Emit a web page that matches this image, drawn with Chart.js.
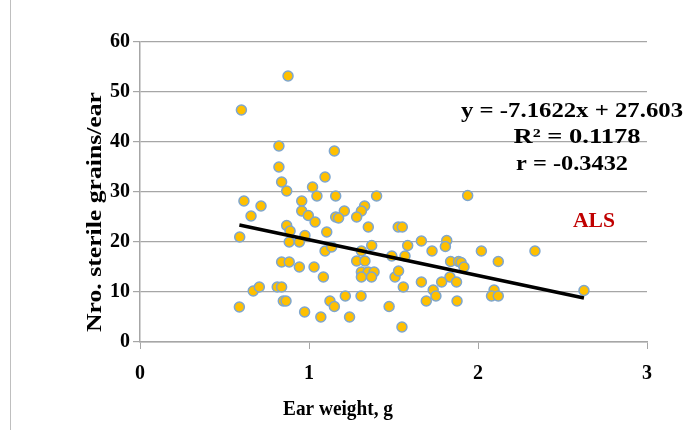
<!DOCTYPE html>
<html><head><meta charset="utf-8">
<script src="https://cdn.jsdelivr.net/npm/chart.js@4/dist/chart.umd.min.js"></script>
<style>html,body{margin:0;padding:0;background:#fff;}#wrap{width:683px;height:430px;}</style>
</head><body><div id="wrap"><canvas id="c" width="683" height="430"></canvas></div>
<script>
// Ear weight (g) per observation
const earWeight = [
  0.60, 0.876, 0.59, 0.588, 0.615, 0.657, 0.716, 0.67, 0.706, 0.822,
  0.822, 0.838, 0.868, 0.957, 1.021, 1.047, 0.957, 0.996, 1.036, 0.868,
  0.888, 0.976, 0.883, 0.943, 0.838, 0.883, 0.943, 1.03, 1.085, 0.812,
  0.838, 0.848, 0.864, 0.974, 1.07, 1.150, 1.095, 1.158, 1.40, 1.329,
  1.31, 1.282, 1.209, 1.158, 1.351, 1.528, 1.552, 1.105, 1.095, 1.134,
  1.371, 1.31, 1.282, 1.331, 1.31, 1.35, 1.385, 1.31, 1.37, 1.49,
  1.568, 1.584, 1.509, 1.53, 1.558, 1.215, 1.308, 1.124, 1.15, 1.24,
  1.474, 1.55, 1.665, 1.815, 1.807, 1.728, 2.02, 2.337, 1.838, 1.885,
  1.90, 1.917, 2.12, 1.834, 1.873, 1.785, 1.665, 1.735, 1.751, 1.694,
  1.876, 2.095, 2.08, 2.12, 2.627, 1.939, 1.175
];
// Number of sterile grains per ear
const sterileGrains = [
  46.4, 53.2, 21, 7, 28.2, 25.2, 27.2, 10.2, 11, 39.2,
  35, 32, 30.2, 28.2, 31, 29.2, 26.2, 25.3, 24, 23.3,
  22.2, 21.3, 20, 20, 16, 16, 15, 15, 13, 11,
  11, 8.2, 8.2, 6, 5, 38.2, 33, 29.2, 29.2, 27.2,
  26.2, 25, 26.2, 25, 23, 23, 23, 22, 18.2, 19,
  19.3, 18.2, 16.2, 16.2, 14, 14, 14, 13, 13, 17.2,
  17.2, 19.3, 13, 14.2, 11, 9.2, 9.2, 8.2, 7.1, 5,
  7.1, 3, 20.2, 20.3, 19.1, 18.2, 18.2, 18.2, 16.1, 16.1,
  15.9, 15, 16.1, 13, 12, 12, 12, 10.4, 9.2, 8.2,
  8.2, 10.4, 9.2, 9.2, 10.3, 29.3, 24.8
];
const trendSlope = -7.1622;
const trendIntercept = 27.603;
const xTickValues = [0, 1, 2, 3];
const yTickValues = [0, 10, 20, 30, 40, 50, 60];
const equationLines = ["y = -7.1622x + 27.603", "R\u00B2 = 0.1178", "r = -0.3432"];
const seriesName = "ALS";
const xTitle = "Ear weight, g";
const yTitle = "Nro. sterile grains/ear";

const points = earWeight.map((x, i) => ({x: x, y: sterileGrains[i]}));
const xMin = Math.min(...earWeight), xMax = Math.max(...earWeight);
const trend = [xMin, xMax].map(x => ({x: x, y: trendSlope * x + trendIntercept}));

const serif = "'Liberation Serif', 'Times New Roman', serif";
const gridCol = '#a6a6a6';

function stretchedText(ctx, text, cx, cy, targetW) {
  const w = ctx.measureText(text).width;
  const k = targetW / w;
  ctx.save();
  ctx.translate(cx, cy);
  ctx.scale(k, 1);
  ctx.fillText(text, 0, 0);
  ctx.restore();
}

const textPlugin = {
  id: 'texts',
  afterDraw(chart) {
    const ctx = chart.ctx;
    ctx.save();
    ctx.strokeStyle = '#bfbfbf';
    ctx.lineWidth = 1;
    ctx.beginPath(); ctx.moveTo(10.5, 0); ctx.lineTo(10.5, 430); ctx.stroke();
    ctx.fillStyle = '#000';
    ctx.font = "bold 21px " + serif;
    ctx.textAlign = 'center';
    ctx.textBaseline = 'middle';
    stretchedText(ctx, equationLines[0], 572, 112, 222);
    stretchedText(ctx, equationLines[1], 577, 138, 127);
    stretchedText(ctx, equationLines[2], 572, 165, 112);
    ctx.fillStyle = '#C00000';
    stretchedText(ctx, seriesName, 594, 222, 42);
    ctx.fillStyle = '#000';
    ctx.font = "bold 20px " + serif;
    stretchedText(ctx, xTitle, 338, 410, 110);
    ctx.font = "bold 20px " + serif;
    ctx.translate(96, 212);
    ctx.rotate(-Math.PI / 2);
    stretchedText(ctx, yTitle, 0, 0, 240);
    ctx.restore();
  }
};

new Chart(document.getElementById('c'), {
  type: 'scatter',
  data: {
    datasets: [
      {
        label: 'trend', data: trend, showLine: true, borderColor: '#000', borderWidth: 3.5,
        pointRadius: 0, order: 0, fill: false
      },
      {
        label: seriesName, data: points, backgroundColor: '#FFC000', borderColor: '#7EA6CE',
        borderWidth: 1.5, pointRadius: 5, order: 1
      }
    ]
  },
  options: {
    responsive: false,
    animation: false,
    devicePixelRatio: 1,
    layout: {padding: {top: 42, right: 36, left: 0, bottom: 0}},
    plugins: {legend: {display: false}, tooltip: {enabled: false}},
    scales: {
      x: {
        type: 'linear', min: 0, max: 3,
        afterBuildTicks: s => { s.ticks = xTickValues.map(v => ({value: v})); },
        afterFit: s => { s.height = 88; },
        grid: {drawOnChartArea: false, color: gridCol, tickLength: 7, lineWidth: 1},
        border: {color: gridCol, width: 1.5},
        ticks: {color: '#000', font: {family: serif, size: 20, weight: 'bold'}, padding: 13}
      },
      y: {
        type: 'linear', min: 0, max: 60,
        afterBuildTicks: s => { s.ticks = yTickValues.map(v => ({value: v})); },
        afterFit: s => { s.width = 140; },
        grid: {color: gridCol, tickLength: 7, lineWidth: 1.2},
        border: {color: gridCol, width: 1.5},
        ticks: {color: '#000', font: {family: serif, size: 20, weight: 'bold'}, padding: 3}
      }
    }
  },
  plugins: [textPlugin]
});
</script></body></html>
